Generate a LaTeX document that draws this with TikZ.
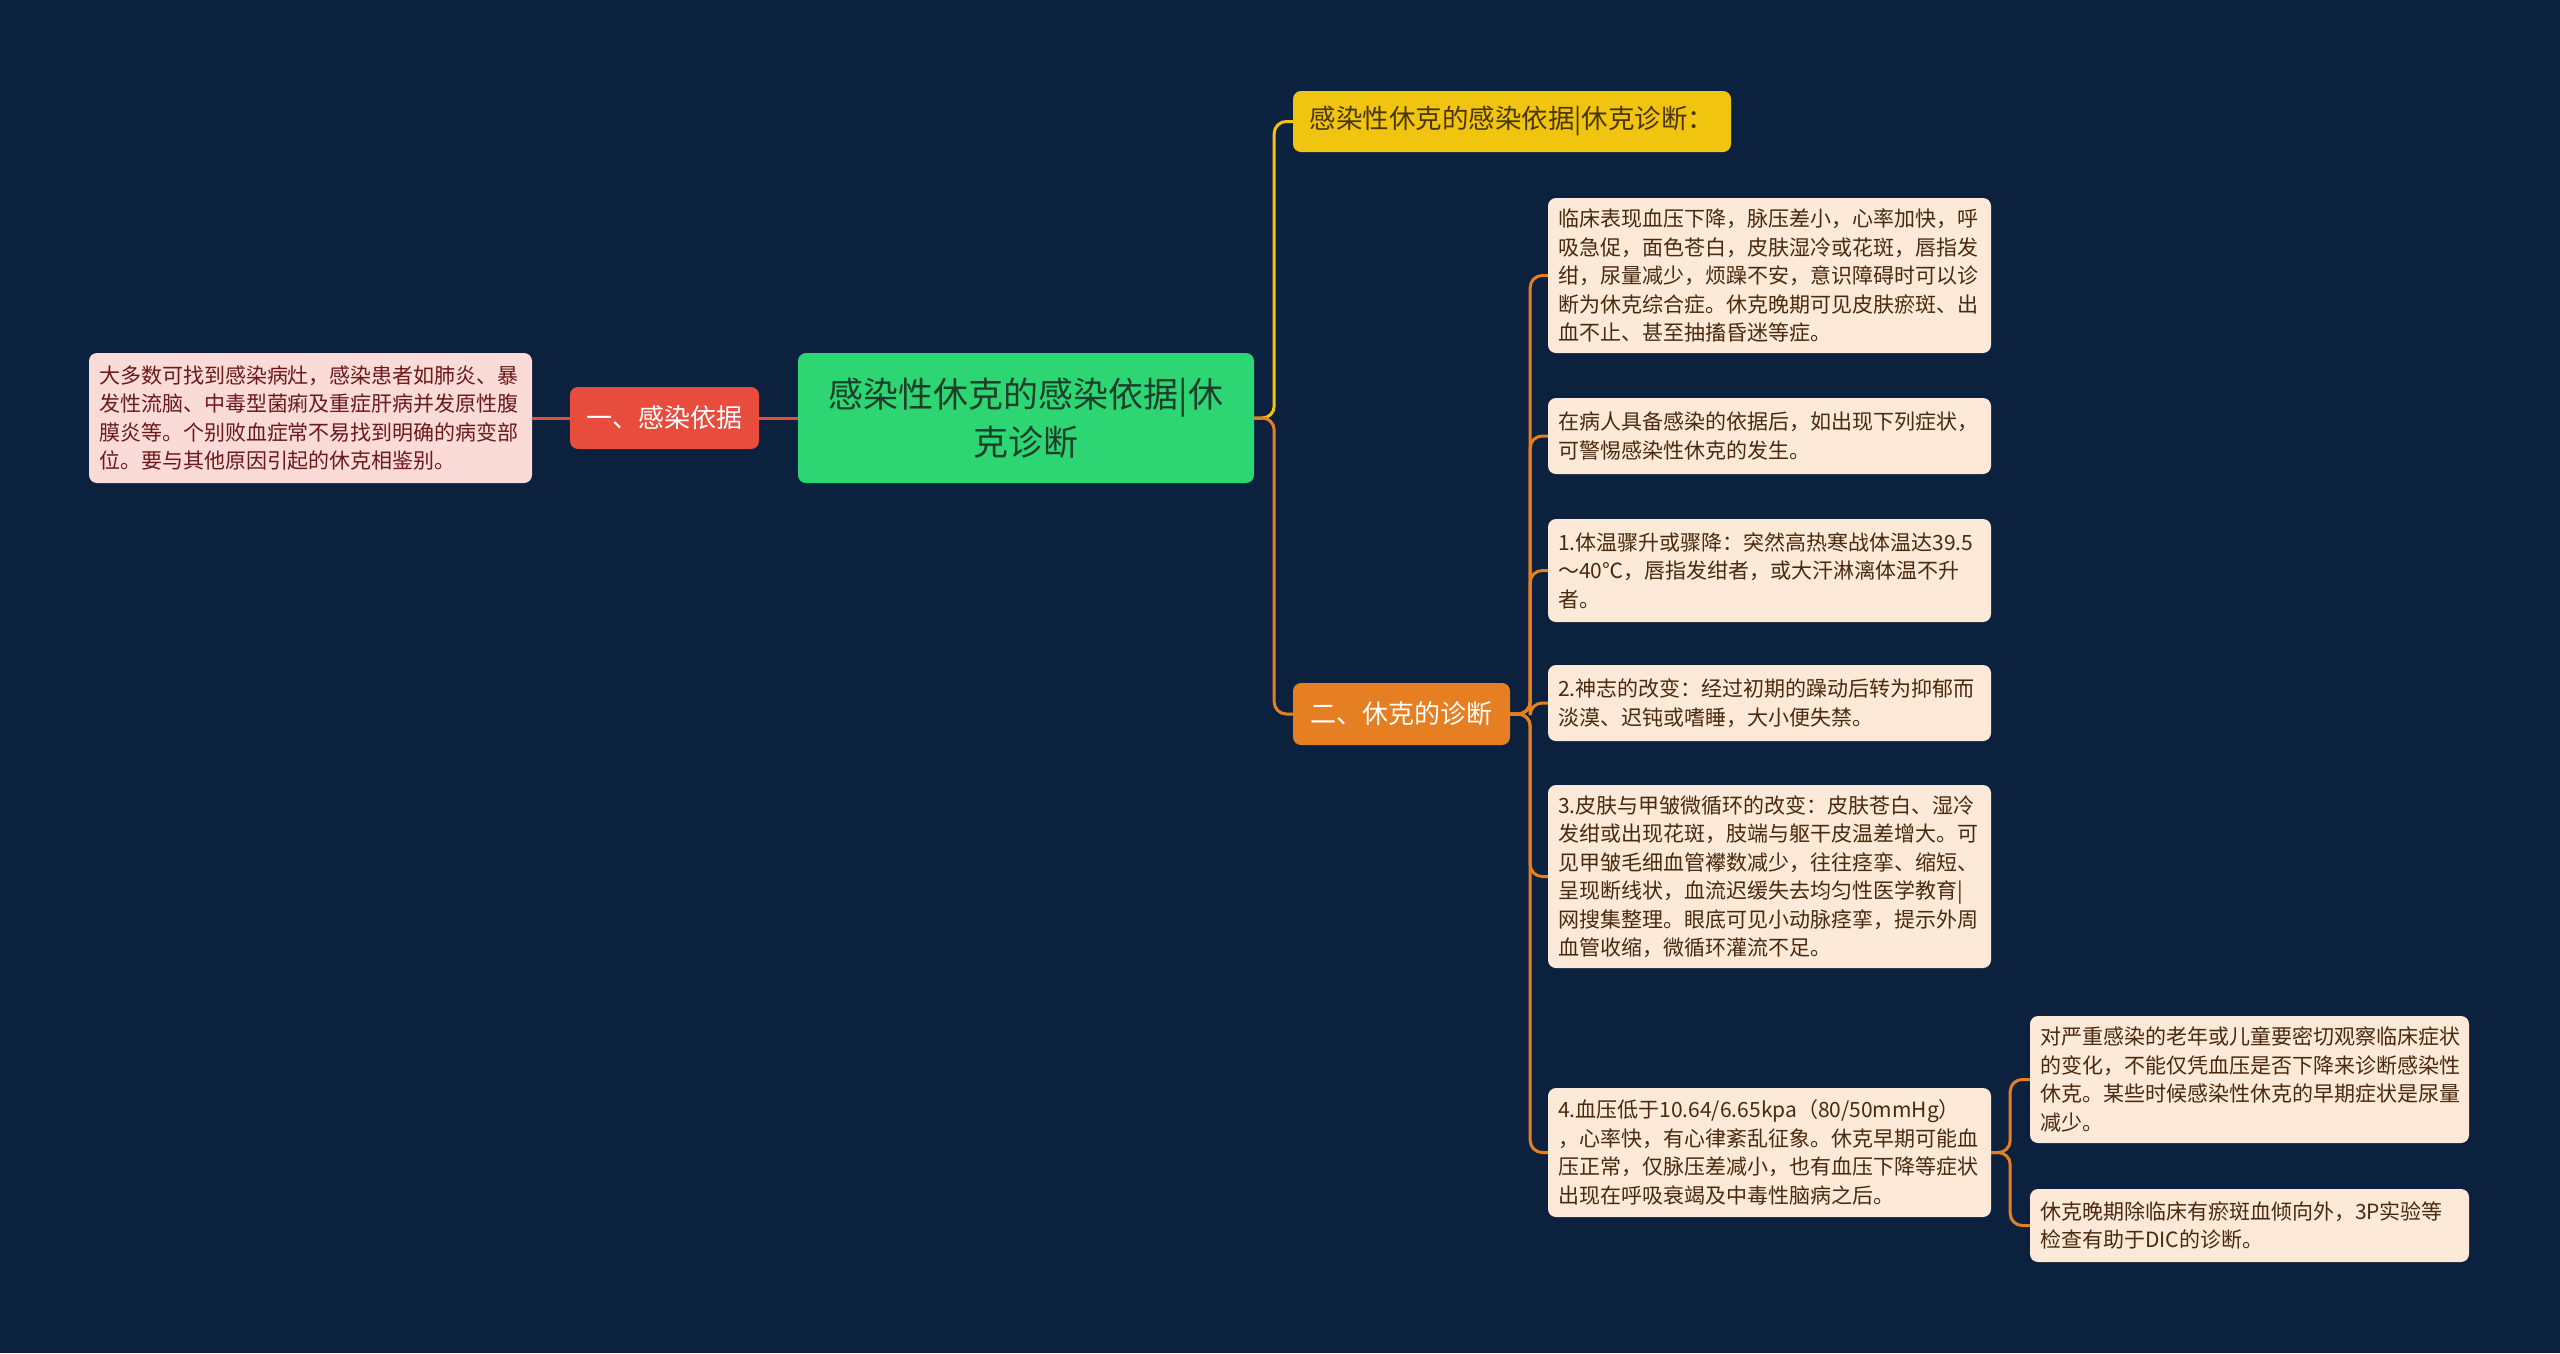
\documentclass[tikz,border=0pt]{standalone}
\usepackage{fontspec}
\newfontfamily\cjk{Noto Sans CJK SC}
\definecolor{bg}{HTML}{0C213E}
\definecolor{rootg}{HTML}{2ED573}
\definecolor{roott}{HTML}{1B3F2A}
\definecolor{redn}{HTML}{E74C3C}
\definecolor{yeln}{HTML}{F1C40F}
\definecolor{yelt}{HTML}{4A3600}
\definecolor{orn}{HTML}{E67E22}
\definecolor{leaf}{HTML}{FCE9D8}
\definecolor{leaft}{HTML}{4A2A0E}
\definecolor{pink}{HTML}{FADBD8}
\definecolor{pinkt}{HTML}{6B1A1A}
\tikzset{
  box/.style={rounded corners=8pt, inner xsep=10pt, inner ysep=0pt, align=left},
  leafbox/.style={box, fill=leaf, text=leaft, text width=#1, font=\cjk\fontsize{21}{28.5}\selectfont},
  conn/.style={line width=3pt, rounded corners=12pt},
}
\begin{document}
\begin{tikzpicture}[x=1pt,y=-1pt]
\useasboundingbox[fill=bg] (0,0) rectangle (2560,1353);

% root
\node[box, fill=rootg, text=roott, minimum width=456, minimum height=130, align=center,
  font=\cjk\fontsize{35}{48}\selectfont] (root) at (1026,418) {感染性休克的感染依据|休\\克诊断};

% level 1
\node[box, fill=yeln, text=yelt, minimum width=438, minimum height=61, align=center,
  font=\cjk\fontsize{26.5}{30}\selectfont] (yel) at (1512,121.5) {感染性休克的感染依据|休克诊断：};
\node[box, fill=orn, text=white, minimum width=217, minimum height=62, align=center,
  font=\cjk\fontsize{26}{30}\selectfont] (ora) at (1401.5,714) {二、休克的诊断};
\node[box, fill=redn, text=white, minimum width=189, minimum height=62, align=center,
  font=\cjk\fontsize{26}{30}\selectfont] (red) at (664.5,418) {一、感染依据};

% left leaf
\node[box, fill=pink, text=pinkt, text width=423, minimum height=130,
  font=\cjk\fontsize{21}{28.5}\selectfont] (pk) at (310.5,418) {大多数可找到感染病灶，感染患者如肺炎、暴\\发性流脑、中毒型菌痢及重症肝病并发原性腹\\膜炎等。个别败血症常不易找到明确的病变部\\位。要与其他原因引起的休克相鉴别。};

% right leaves
\node[leafbox=423, minimum height=155] (l1) at (1769.5,275.5) {临床表现血压下降，脉压差小，心率加快，呼\\吸急促，面色苍白，皮肤湿冷或花斑，唇指发\\绀，尿量减少，烦躁不安，意识障碍时可以诊\\断为休克综合症。休克晚期可见皮肤瘀斑、出\\血不止、甚至抽搐昏迷等症。};
\node[leafbox=423, minimum height=76] (l2) at (1769.5,436) {在病人具备感染的依据后，如出现下列症状，\\可警惕感染性休克的发生。};
\node[leafbox=423, minimum height=103] (l3) at (1769.5,570.5) {1.体温骤升或骤降：突然高热寒战体温达39.5\\～40℃，唇指发绀者，或大汗淋漓体温不升\\者。};
\node[leafbox=423, minimum height=76] (l4) at (1769.5,703) {2.神志的改变：经过初期的躁动后转为抑郁而\\淡漠、迟钝或嗜睡，大小便失禁。};
\node[leafbox=423, minimum height=183] (l5) at (1769.5,876.5) {3.皮肤与甲皱微循环的改变：皮肤苍白、湿冷\\发绀或出现花斑，肢端与躯干皮温差增大。可\\见甲皱毛细血管襻数减少，往往痉挛、缩短、\\呈现断线状，血流迟缓失去均匀性医学教育|\\网搜集整理。眼底可见小动脉痉挛，提示外周\\血管收缩，微循环灌流不足。};
\node[leafbox=423, minimum height=129] (l6) at (1769.5,1152.5) {4.血压低于10.64/6.65kpa（80/50mmHg）\\，心率快，有心律紊乱征象。休克早期可能血\\压正常，仅脉压差减小，也有血压下降等症状\\出现在呼吸衰竭及中毒性脑病之后。};

% sub leaves
\node[leafbox=419, minimum height=127] (s1) at (2249.5,1079.5) {对严重感染的老年或儿童要密切观察临床症状\\的变化，不能仅凭血压是否下降来诊断感染性\\休克。某些时候感染性休克的早期症状是尿量\\减少。};
\node[leafbox=419, minimum height=73] (s2) at (2249.5,1225.5) {休克晚期除临床有瘀斑血倾向外，3P实验等\\检查有助于DIC的诊断。};

% connectors
\draw[conn, redn] (root.west) -- (red.east);
\draw[conn, redn] (red.west) -- (pk.east);
\draw[conn, yeln] (root.east) -- ++(20,0) |- (yel.west);
\draw[conn, orn] (root.east) -- ++(20,0) |- (ora.west);
\foreach \n in {l1,l2,l3,l4,l5,l6}
  \draw[conn, orn] (ora.east) -- ++(20,0) |- (\n.west);
\foreach \n in {s1,s2}
  \draw[conn, orn] (l6.east) -- ++(19,0) |- (\n.west);
\end{tikzpicture}
\end{document}
